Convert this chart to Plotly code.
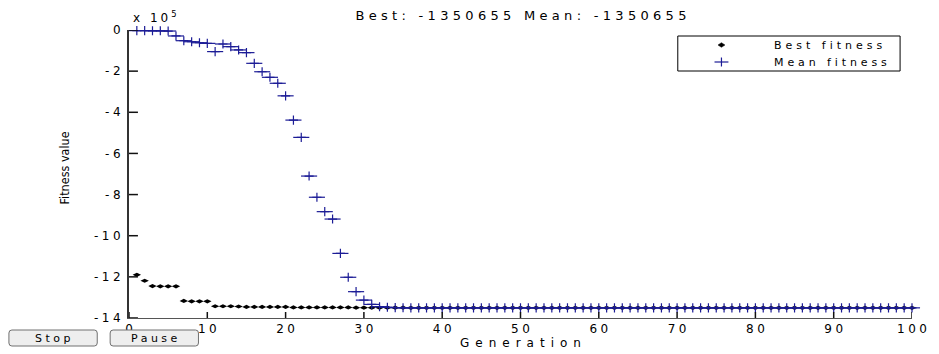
import plotly.graph_objects as go

# Genetic algorithm run: best and mean fitness per generation
generations = list(range(1, 101))

best_fitness = [
    -1190000, -1219000, -1245000, -1246000, -1246000, -1246000, -1317000, -1319000, -1319000, -1319000,
    -1343000, -1343000, -1343000, -1344000, -1346000, -1346000, -1346000, -1346000, -1346000, -1346000,
    -1348500, -1348500, -1348500, -1348500, -1348500, -1348500, -1348500, -1348500, -1350000, -1350000,
    -1350000, -1350000, -1350000, -1350000, -1350000, -1350655, -1350655, -1350655, -1350655, -1350655,
    -1350655, -1350655, -1350655, -1350655, -1350655, -1350655, -1350655, -1350655, -1350655, -1350655,
    -1350655, -1350655, -1350655, -1350655, -1350655, -1350655, -1350655, -1350655, -1350655, -1350655,
    -1350655, -1350655, -1350655, -1350655, -1350655, -1350655, -1350655, -1350655, -1350655, -1350655,
    -1350655, -1350655, -1350655, -1350655, -1350655, -1350655, -1350655, -1350655, -1350655, -1350655,
    -1350655, -1350655, -1350655, -1350655, -1350655, -1350655, -1350655, -1350655, -1350655, -1350655,
    -1350655, -1350655, -1350655, -1350655, -1350655, -1350655, -1350655, -1350655, -1350655, -1350655,
]

mean_fitness = [
    -3000, -3000, -4000, -4000, -5000, -29000, -52000, -57000, -62000, -65000,
    -105000, -68000, -81000, -97000, -110000, -162000, -203000, -230000, -259000, -320000,
    -438000, -522000, -710000, -813000, -883000, -919000, -1086000, -1202000, -1272000, -1313000,
    -1334000, -1345000, -1348000, -1349500, -1350300, -1350655, -1350655, -1350655, -1350655, -1350655,
    -1350655, -1350655, -1350655, -1350655, -1350655, -1350655, -1350655, -1350655, -1350655, -1350655,
    -1350655, -1350655, -1350655, -1350655, -1350655, -1350655, -1350655, -1350655, -1350655, -1350655,
    -1350655, -1350655, -1350655, -1350655, -1350655, -1350655, -1350655, -1350655, -1350655, -1350655,
    -1350655, -1350655, -1350655, -1350655, -1350655, -1350655, -1350655, -1350655, -1350655, -1350655,
    -1350655, -1350655, -1350655, -1350655, -1350655, -1350655, -1350655, -1350655, -1350655, -1350655,
    -1350655, -1350655, -1350655, -1350655, -1350655, -1350655, -1350655, -1350655, -1350655, -1350655,
]

series_names = ["Best fitness", "Mean fitness"]

x_ticks = [0, 10, 20, 30, 40, 50, 60, 70, 80, 90, 100]
x_tick_labels = ["0", "10", "20", "30", "40", "50", "60", "70", "80", "90", "100"]
y_ticks = [0, -2, -4, -6, -8, -10, -12, -14]
y_tick_labels = ["0", "-2", "-4", "-6", "-8", "-10", "-12", "-14"]

SCALE = 1e5  # values are shown as multiples of 10^5

# ---- page geometry (pixels) ----
W, H = 939, 354
L, R, T, B = 129, 918, 30, 318   # plot area edges


def px_x(px):
    return (px - L) / (R - L)


def px_y(py):
    return (B - py) / (B - T)


def spaced(s, ls):
    """Widen text with letter spacing (not applied after the last glyph)."""
    if len(s) < 2:
        return s
    return f'<span style="letter-spacing:{ls}px">{s[:-1]}</span>{s[-1]}'


def rounded_rect(x0, y0, x1, y1, r):
    """SVG path (paper coords) for a rectangle with rounded corners, given in pixels."""
    pts = [
        f"M{px_x(x0 + r)},{px_y(y0)}",
        f"L{px_x(x1 - r)},{px_y(y0)}",
        f"Q{px_x(x1)},{px_y(y0)} {px_x(x1)},{px_y(y0 + r)}",
        f"L{px_x(x1)},{px_y(y1 - r)}",
        f"Q{px_x(x1)},{px_y(y1)} {px_x(x1 - r)},{px_y(y1)}",
        f"L{px_x(x0 + r)},{px_y(y1)}",
        f"Q{px_x(x0)},{px_y(y1)} {px_x(x0)},{px_y(y1 - r)}",
        f"L{px_x(x0)},{px_y(y0 + r)}",
        f"Q{px_x(x0)},{px_y(y0)} {px_x(x0 + r)},{px_y(y0)}",
        "Z",
    ]
    return " ".join(pts)


FONT = "DejaVu Sans, Liberation Sans, Arial, sans-serif"
BLUE = "#1c1c96"
TICK_COLOR = "#111111"

best_scaled = [v / SCALE for v in best_fitness]
mean_scaled = [v / SCALE for v in mean_fitness]

fig = go.Figure()

fig.add_trace(go.Scatter(
    x=generations, y=best_scaled, mode="markers", name=series_names[0],
    marker=dict(symbol="diamond-wide", size=6, color="black"),
    cliponaxis=False, showlegend=False,
))
fig.add_trace(go.Scatter(
    x=generations, y=mean_scaled, mode="markers", name=series_names[1],
    marker=dict(symbol="cross-thin", size=6.5, color=BLUE, line=dict(color=BLUE, width=1.2)),
    cliponaxis=False, showlegend=False,
))
# wider horizontal arm of the mean-fitness "+" markers
fig.add_trace(go.Scatter(
    x=generations, y=mean_scaled, mode="markers", name=series_names[1],
    marker=dict(symbol="line-ew", size=11.5, color=BLUE, line=dict(color=BLUE, width=1.2)),
    cliponaxis=False, showlegend=False, hoverinfo="skip",
))

title_text = f"Best: {best_fitness[-1]} Mean: {mean_fitness[-1]}"

axis_common = dict(
    showgrid=False, zeroline=False, showline=True, ticks="",
    tickfont=dict(family=FONT, size=12, color="black"), mirror=False,
)

fig.update_layout(
    width=W, height=H,
    margin=dict(l=L, r=W - R, t=T, b=H - B, pad=0),
    paper_bgcolor="white", plot_bgcolor="white",
    showlegend=False,
    title=dict(
        text=spaced(title_text, 4.3), x=521 / W, xanchor="center",
        y=1 - 15 / H, yanchor="middle", font=dict(family=FONT, size=13, color="black"),
    ),
    xaxis=dict(
        range=[0, 100], tickmode="array", tickvals=x_ticks,
        ticktext=[spaced(t, 3.5) for t in x_tick_labels],
        linecolor="#555555", linewidth=1, **axis_common,
    ),
    yaxis=dict(
        range=[-14, 0], tickmode="array", tickvals=y_ticks,
        ticktext=[spaced(t, 3.5) for t in y_tick_labels],
        ticklabelstandoff=4, linecolor="#333333", linewidth=2, **axis_common,
    ),
)

shapes = []

# ---- inward tick marks, placed at the axis tick values ----
X_TICK_LEN, Y_TICK_LEN = 6, 9   # pixels
for xv in x_ticks:
    shapes.append(dict(type="line", xref="x", yref="paper", x0=xv, x1=xv,
                       y0=0, y1=X_TICK_LEN / (B - T),
                       line=dict(color=TICK_COLOR, width=1.5), layer="above"))
for yv in y_ticks:
    shapes.append(dict(type="line", xref="paper", yref="y", x0=0, x1=Y_TICK_LEN / (R - L),
                       y0=yv, y1=yv, line=dict(color=TICK_COLOR, width=1.5), layer="above"))

# ---- legend box (drawn with shapes and annotations) ----
LEG_X0, LEG_X1, LEG_Y0, LEG_Y1 = 682, 906, 36, 71
LEG_ROWS = [45, 62]
SYM_X, TXT_X = 726, 777

shapes += [
    dict(type="rect", xref="paper", yref="paper",
         x0=px_x(LEG_X0), x1=px_x(LEG_X1), y0=px_y(LEG_Y1), y1=px_y(LEG_Y0),
         fillcolor="white", line=dict(color="black", width=1), layer="above"),
    # diamond symbol for best fitness
    dict(type="path", xref="paper", yref="paper",
         path=(f"M{px_x(SYM_X - 3.5)},{px_y(LEG_ROWS[0])} L{px_x(SYM_X)},{px_y(LEG_ROWS[0] - 2.3)} "
               f"L{px_x(SYM_X + 3.5)},{px_y(LEG_ROWS[0])} L{px_x(SYM_X)},{px_y(LEG_ROWS[0] + 2.3)} Z"),
         fillcolor="black", line=dict(color="black", width=0.5), layer="above"),
    # plus symbol for mean fitness
    dict(type="line", xref="paper", yref="paper",
         x0=px_x(SYM_X - 7), x1=px_x(SYM_X + 7), y0=px_y(LEG_ROWS[1]), y1=px_y(LEG_ROWS[1]),
         line=dict(color=BLUE, width=1.2), layer="above"),
    dict(type="line", xref="paper", yref="paper",
         x0=px_x(SYM_X), x1=px_x(SYM_X), y0=px_y(LEG_ROWS[1] - 4.5), y1=px_y(LEG_ROWS[1] + 4.5),
         line=dict(color=BLUE, width=1.2), layer="above"),
]

# ---- Stop / Pause buttons ----
for x0, x1 in [(8, 97), (110, 199)]:
    shapes.append(dict(
        type="path", xref="paper", yref="paper", path=rounded_rect(x0, 330, x1, 346, 3),
        fillcolor="#eeeeee", line=dict(color="#707070", width=1), layer="above",
    ))
fig.update_layout(shapes=shapes)

annotations = [
    # legend entries
    dict(text=spaced(series_names[0], 4.0), x=px_x(TXT_X), y=px_y(LEG_ROWS[0]),
         xanchor="left", yanchor="middle", font=dict(family=FONT, size=11, color="black")),
    dict(text=spaced(series_names[1], 3.9), x=px_x(TXT_X), y=px_y(LEG_ROWS[1]),
         xanchor="left", yanchor="middle", font=dict(family=FONT, size=11, color="black")),
    # axis titles
    dict(text=spaced("Generation", 6.0), x=px_x(523), y=px_y(343), xanchor="center", yanchor="middle",
         font=dict(family=FONT, size=12, color="black")),
    dict(text="Fitness value", x=px_x(63), y=px_y(168), xanchor="center", yanchor="middle",
         textangle=-90, font=dict(family="Liberation Sans Narrow, DejaVu Sans Condensed, Arial Narrow, sans-serif",
                                  size=12.5, color="black")),
    # exponent label
    dict(text='<span style="letter-spacing:3px">x 10</span><sup>5</sup>', x=px_x(131), y=px_y(27),
         xanchor="left", yanchor="bottom", font=dict(family=FONT, size=12, color="black")),
    # control buttons
    dict(text=spaced("Stop", 3.5), x=px_x(52.5), y=px_y(338), xanchor="center", yanchor="middle",
         font=dict(family=FONT, size=11, color="black")),
    dict(text=spaced("Pause", 3.5), x=px_x(154.5), y=px_y(338), xanchor="center", yanchor="middle",
         font=dict(family=FONT, size=11, color="black")),
]
for a in annotations:
    a.update(xref="paper", yref="paper", showarrow=False)
fig.update_layout(annotations=annotations)

fig.write_html("out.html")
